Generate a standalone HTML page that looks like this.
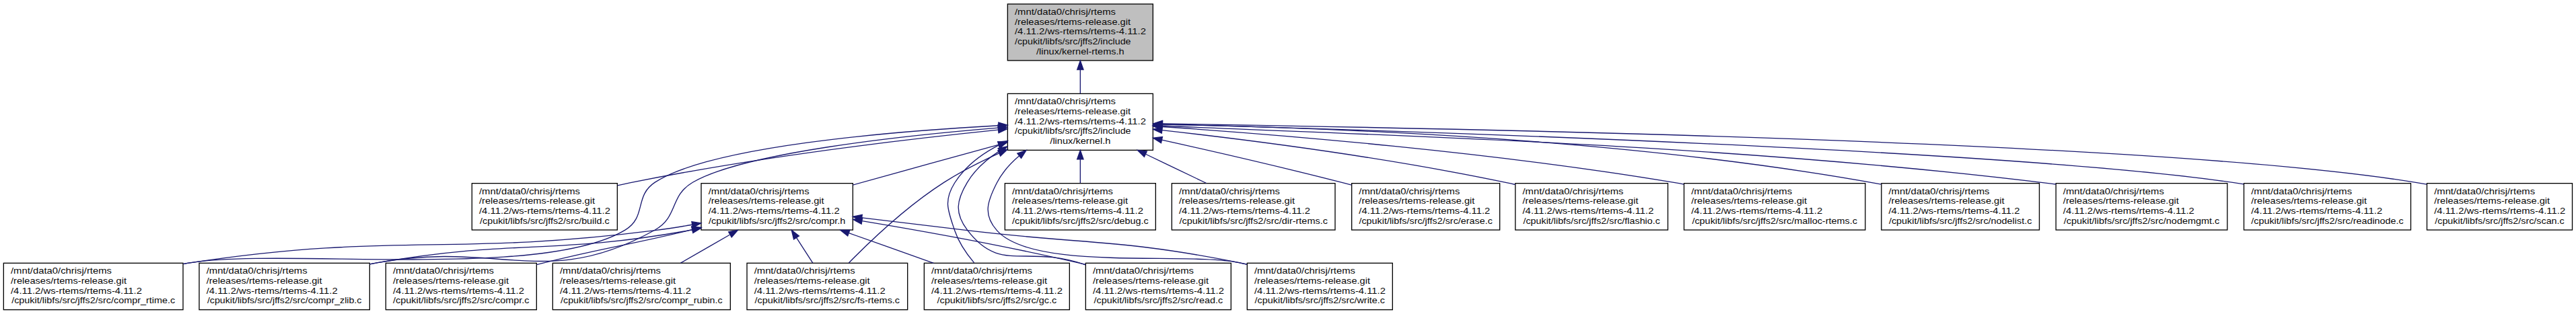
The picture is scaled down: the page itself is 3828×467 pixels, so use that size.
<!DOCTYPE html><html><head><meta charset="utf-8"><style>html,body{margin:0;padding:0;background:#fff;overflow:hidden;width:3828px;height:467px;}svg{display:block;}text{font-family:"Liberation Sans",sans-serif;font-size:13.3px;fill:#090909;}</style></head><body>
<svg width="3828" height="467" viewBox="0 0 3828 467">
<rect x="0" y="0" width="3828" height="467" fill="#fff"/>
<g><rect x="1497.33" y="6" width="216" height="84" fill="#bfbfbf" stroke="#000" stroke-width="1.33"/>
<text x="1508" y="22" textLength="150" lengthAdjust="spacingAndGlyphs">/mnt/data0/chrisj/rtems</text>
<text x="1508" y="36.67" textLength="172" lengthAdjust="spacingAndGlyphs">/releases/rtems-release.git</text>
<text x="1508" y="51.33" textLength="195" lengthAdjust="spacingAndGlyphs">/4.11.2/ws-rtems/rtems-4.11.2</text>
<text x="1508" y="66" textLength="172.5" lengthAdjust="spacingAndGlyphs">/cpukit/libfs/src/jffs2/include</text>
<text x="1605.33" y="80.67" text-anchor="middle" textLength="130.5" lengthAdjust="spacingAndGlyphs">/linux/kernel-rtems.h</text>
<rect x="1497.33" y="139.33" width="216" height="84" fill="#fff" stroke="#000" stroke-width="1.33"/>
<text x="1508" y="155.33" textLength="150" lengthAdjust="spacingAndGlyphs">/mnt/data0/chrisj/rtems</text>
<text x="1508" y="170" textLength="172" lengthAdjust="spacingAndGlyphs">/releases/rtems-release.git</text>
<text x="1508" y="184.67" textLength="195" lengthAdjust="spacingAndGlyphs">/4.11.2/ws-rtems/rtems-4.11.2</text>
<text x="1508" y="199.33" textLength="172.5" lengthAdjust="spacingAndGlyphs">/cpukit/libfs/src/jffs2/include</text>
<text x="1605.33" y="214" text-anchor="middle" textLength="90" lengthAdjust="spacingAndGlyphs">/linux/kernel.h</text>
<rect x="701.33" y="272.67" width="216" height="69.33" fill="#fff" stroke="#000" stroke-width="1.33"/>
<text x="712" y="288.67" textLength="150" lengthAdjust="spacingAndGlyphs">/mnt/data0/chrisj/rtems</text>
<text x="712" y="303.33" textLength="172" lengthAdjust="spacingAndGlyphs">/releases/rtems-release.git</text>
<text x="712" y="318" textLength="195" lengthAdjust="spacingAndGlyphs">/4.11.2/ws-rtems/rtems-4.11.2</text>
<text x="809.33" y="332.67" text-anchor="middle" textLength="192.5" lengthAdjust="spacingAndGlyphs">/cpukit/libfs/src/jffs2/src/build.c</text>
<rect x="1042" y="272.67" width="225.33" height="69.33" fill="#fff" stroke="#000" stroke-width="1.33"/>
<text x="1052.67" y="288.67" textLength="150" lengthAdjust="spacingAndGlyphs">/mnt/data0/chrisj/rtems</text>
<text x="1052.67" y="303.33" textLength="172" lengthAdjust="spacingAndGlyphs">/releases/rtems-release.git</text>
<text x="1052.67" y="318" textLength="195" lengthAdjust="spacingAndGlyphs">/4.11.2/ws-rtems/rtems-4.11.2</text>
<text x="1154.67" y="332.67" text-anchor="middle" textLength="203.5" lengthAdjust="spacingAndGlyphs">/cpukit/libfs/src/jffs2/src/compr.h</text>
<rect x="5.33" y="391.33" width="266.67" height="69.33" fill="#fff" stroke="#000" stroke-width="1.33"/>
<text x="16" y="407.33" textLength="150" lengthAdjust="spacingAndGlyphs">/mnt/data0/chrisj/rtems</text>
<text x="16" y="422" textLength="172" lengthAdjust="spacingAndGlyphs">/releases/rtems-release.git</text>
<text x="16" y="436.67" textLength="195" lengthAdjust="spacingAndGlyphs">/4.11.2/ws-rtems/rtems-4.11.2</text>
<text x="138.67" y="451.33" text-anchor="middle" textLength="243" lengthAdjust="spacingAndGlyphs">/cpukit/libfs/src/jffs2/src/compr_rtime.c</text>
<rect x="296" y="391.33" width="253.33" height="69.33" fill="#fff" stroke="#000" stroke-width="1.33"/>
<text x="306.67" y="407.33" textLength="150" lengthAdjust="spacingAndGlyphs">/mnt/data0/chrisj/rtems</text>
<text x="306.67" y="422" textLength="172" lengthAdjust="spacingAndGlyphs">/releases/rtems-release.git</text>
<text x="306.67" y="436.67" textLength="195" lengthAdjust="spacingAndGlyphs">/4.11.2/ws-rtems/rtems-4.11.2</text>
<text x="422.67" y="451.33" text-anchor="middle" textLength="229.5" lengthAdjust="spacingAndGlyphs">/cpukit/libfs/src/jffs2/src/compr_zlib.c</text>
<rect x="1110" y="391.33" width="238.67" height="69.33" fill="#fff" stroke="#000" stroke-width="1.33"/>
<text x="1120.67" y="407.33" textLength="150" lengthAdjust="spacingAndGlyphs">/mnt/data0/chrisj/rtems</text>
<text x="1120.67" y="422" textLength="172" lengthAdjust="spacingAndGlyphs">/releases/rtems-release.git</text>
<text x="1120.67" y="436.67" textLength="195" lengthAdjust="spacingAndGlyphs">/4.11.2/ws-rtems/rtems-4.11.2</text>
<text x="1229.33" y="451.33" text-anchor="middle" textLength="215.5" lengthAdjust="spacingAndGlyphs">/cpukit/libfs/src/jffs2/src/fs-rtems.c</text>
<rect x="1373.33" y="391.33" width="216" height="69.33" fill="#fff" stroke="#000" stroke-width="1.33"/>
<text x="1384" y="407.33" textLength="150" lengthAdjust="spacingAndGlyphs">/mnt/data0/chrisj/rtems</text>
<text x="1384" y="422" textLength="172" lengthAdjust="spacingAndGlyphs">/releases/rtems-release.git</text>
<text x="1384" y="436.67" textLength="195" lengthAdjust="spacingAndGlyphs">/4.11.2/ws-rtems/rtems-4.11.2</text>
<text x="1481.33" y="451.33" text-anchor="middle" textLength="177.5" lengthAdjust="spacingAndGlyphs">/cpukit/libfs/src/jffs2/src/gc.c</text>
<rect x="1613.33" y="391.33" width="216" height="69.33" fill="#fff" stroke="#000" stroke-width="1.33"/>
<text x="1624" y="407.33" textLength="150" lengthAdjust="spacingAndGlyphs">/mnt/data0/chrisj/rtems</text>
<text x="1624" y="422" textLength="172" lengthAdjust="spacingAndGlyphs">/releases/rtems-release.git</text>
<text x="1624" y="436.67" textLength="195" lengthAdjust="spacingAndGlyphs">/4.11.2/ws-rtems/rtems-4.11.2</text>
<text x="1721.33" y="451.33" text-anchor="middle" textLength="191.5" lengthAdjust="spacingAndGlyphs">/cpukit/libfs/src/jffs2/src/read.c</text>
<rect x="1853.33" y="391.33" width="216" height="69.33" fill="#fff" stroke="#000" stroke-width="1.33"/>
<text x="1864" y="407.33" textLength="150" lengthAdjust="spacingAndGlyphs">/mnt/data0/chrisj/rtems</text>
<text x="1864" y="422" textLength="172" lengthAdjust="spacingAndGlyphs">/releases/rtems-release.git</text>
<text x="1864" y="436.67" textLength="195" lengthAdjust="spacingAndGlyphs">/4.11.2/ws-rtems/rtems-4.11.2</text>
<text x="1961.33" y="451.33" text-anchor="middle" textLength="193.5" lengthAdjust="spacingAndGlyphs">/cpukit/libfs/src/jffs2/src/write.c</text>
<rect x="1493.33" y="272.67" width="224" height="69.33" fill="#fff" stroke="#000" stroke-width="1.33"/>
<text x="1504" y="288.67" textLength="150" lengthAdjust="spacingAndGlyphs">/mnt/data0/chrisj/rtems</text>
<text x="1504" y="303.33" textLength="172" lengthAdjust="spacingAndGlyphs">/releases/rtems-release.git</text>
<text x="1504" y="318" textLength="195" lengthAdjust="spacingAndGlyphs">/4.11.2/ws-rtems/rtems-4.11.2</text>
<text x="1605.33" y="332.67" text-anchor="middle" textLength="202.5" lengthAdjust="spacingAndGlyphs">/cpukit/libfs/src/jffs2/src/debug.c</text>
<rect x="1741.33" y="272.67" width="242.67" height="69.33" fill="#fff" stroke="#000" stroke-width="1.33"/>
<text x="1752" y="288.67" textLength="150" lengthAdjust="spacingAndGlyphs">/mnt/data0/chrisj/rtems</text>
<text x="1752" y="303.33" textLength="172" lengthAdjust="spacingAndGlyphs">/releases/rtems-release.git</text>
<text x="1752" y="318" textLength="195" lengthAdjust="spacingAndGlyphs">/4.11.2/ws-rtems/rtems-4.11.2</text>
<text x="1862.67" y="332.67" text-anchor="middle" textLength="220.5" lengthAdjust="spacingAndGlyphs">/cpukit/libfs/src/jffs2/src/dir-rtems.c</text>
<rect x="2008.67" y="272.67" width="220" height="69.33" fill="#fff" stroke="#000" stroke-width="1.33"/>
<text x="2019.33" y="288.67" textLength="150" lengthAdjust="spacingAndGlyphs">/mnt/data0/chrisj/rtems</text>
<text x="2019.33" y="303.33" textLength="172" lengthAdjust="spacingAndGlyphs">/releases/rtems-release.git</text>
<text x="2019.33" y="318" textLength="195" lengthAdjust="spacingAndGlyphs">/4.11.2/ws-rtems/rtems-4.11.2</text>
<text x="2118.67" y="332.67" text-anchor="middle" textLength="198.5" lengthAdjust="spacingAndGlyphs">/cpukit/libfs/src/jffs2/src/erase.c</text>
<rect x="2251.83" y="272.67" width="226.67" height="69.33" fill="#fff" stroke="#000" stroke-width="1.33"/>
<text x="2262.5" y="288.67" textLength="150" lengthAdjust="spacingAndGlyphs">/mnt/data0/chrisj/rtems</text>
<text x="2262.5" y="303.33" textLength="172" lengthAdjust="spacingAndGlyphs">/releases/rtems-release.git</text>
<text x="2262.5" y="318" textLength="195" lengthAdjust="spacingAndGlyphs">/4.11.2/ws-rtems/rtems-4.11.2</text>
<text x="2365.17" y="332.67" text-anchor="middle" textLength="203.5" lengthAdjust="spacingAndGlyphs">/cpukit/libfs/src/jffs2/src/flashio.c</text>
<rect x="2502.5" y="272.67" width="269.33" height="69.33" fill="#fff" stroke="#000" stroke-width="1.33"/>
<text x="2513.17" y="288.67" textLength="150" lengthAdjust="spacingAndGlyphs">/mnt/data0/chrisj/rtems</text>
<text x="2513.17" y="303.33" textLength="172" lengthAdjust="spacingAndGlyphs">/releases/rtems-release.git</text>
<text x="2513.17" y="318" textLength="195" lengthAdjust="spacingAndGlyphs">/4.11.2/ws-rtems/rtems-4.11.2</text>
<text x="2637.17" y="332.67" text-anchor="middle" textLength="245.5" lengthAdjust="spacingAndGlyphs">/cpukit/libfs/src/jffs2/src/malloc-rtems.c</text>
<rect x="2795.83" y="272.67" width="234.67" height="69.33" fill="#fff" stroke="#000" stroke-width="1.33"/>
<text x="2806.5" y="288.67" textLength="150" lengthAdjust="spacingAndGlyphs">/mnt/data0/chrisj/rtems</text>
<text x="2806.5" y="303.33" textLength="172" lengthAdjust="spacingAndGlyphs">/releases/rtems-release.git</text>
<text x="2806.5" y="318" textLength="195" lengthAdjust="spacingAndGlyphs">/4.11.2/ws-rtems/rtems-4.11.2</text>
<text x="2913.17" y="332.67" text-anchor="middle" textLength="212.5" lengthAdjust="spacingAndGlyphs">/cpukit/libfs/src/jffs2/src/nodelist.c</text>
<rect x="3055.17" y="272.67" width="254.67" height="69.33" fill="#fff" stroke="#000" stroke-width="1.33"/>
<text x="3065.83" y="288.67" textLength="150" lengthAdjust="spacingAndGlyphs">/mnt/data0/chrisj/rtems</text>
<text x="3065.83" y="303.33" textLength="172" lengthAdjust="spacingAndGlyphs">/releases/rtems-release.git</text>
<text x="3065.83" y="318" textLength="195" lengthAdjust="spacingAndGlyphs">/4.11.2/ws-rtems/rtems-4.11.2</text>
<text x="3182.5" y="332.67" text-anchor="middle" textLength="231.5" lengthAdjust="spacingAndGlyphs">/cpukit/libfs/src/jffs2/src/nodemgmt.c</text>
<rect x="3334.5" y="272.67" width="248" height="69.33" fill="#fff" stroke="#000" stroke-width="1.33"/>
<text x="3345.17" y="288.67" textLength="150" lengthAdjust="spacingAndGlyphs">/mnt/data0/chrisj/rtems</text>
<text x="3345.17" y="303.33" textLength="172" lengthAdjust="spacingAndGlyphs">/releases/rtems-release.git</text>
<text x="3345.17" y="318" textLength="195" lengthAdjust="spacingAndGlyphs">/4.11.2/ws-rtems/rtems-4.11.2</text>
<text x="3458.5" y="332.67" text-anchor="middle" textLength="226.5" lengthAdjust="spacingAndGlyphs">/cpukit/libfs/src/jffs2/src/readinode.c</text>
<rect x="3606.5" y="272.67" width="216" height="69.33" fill="#fff" stroke="#000" stroke-width="1.33"/>
<text x="3617.17" y="288.67" textLength="150" lengthAdjust="spacingAndGlyphs">/mnt/data0/chrisj/rtems</text>
<text x="3617.17" y="303.33" textLength="172" lengthAdjust="spacingAndGlyphs">/releases/rtems-release.git</text>
<text x="3617.17" y="318" textLength="195" lengthAdjust="spacingAndGlyphs">/4.11.2/ws-rtems/rtems-4.11.2</text>
<text x="3714.5" y="332.67" text-anchor="middle" textLength="192.5" lengthAdjust="spacingAndGlyphs">/cpukit/libfs/src/jffs2/src/scan.c</text>
<rect x="573.33" y="391.33" width="224" height="69.33" fill="#fff" stroke="#000" stroke-width="1.33"/>
<text x="584" y="407.33" textLength="150" lengthAdjust="spacingAndGlyphs">/mnt/data0/chrisj/rtems</text>
<text x="584" y="422" textLength="172" lengthAdjust="spacingAndGlyphs">/releases/rtems-release.git</text>
<text x="584" y="436.67" textLength="195" lengthAdjust="spacingAndGlyphs">/4.11.2/ws-rtems/rtems-4.11.2</text>
<text x="685.33" y="451.33" text-anchor="middle" textLength="202.5" lengthAdjust="spacingAndGlyphs">/cpukit/libfs/src/jffs2/src/compr.c</text>
<rect x="821.33" y="391.33" width="264" height="69.33" fill="#fff" stroke="#000" stroke-width="1.33"/>
<text x="832" y="407.33" textLength="150" lengthAdjust="spacingAndGlyphs">/mnt/data0/chrisj/rtems</text>
<text x="832" y="422" textLength="172" lengthAdjust="spacingAndGlyphs">/releases/rtems-release.git</text>
<text x="832" y="436.67" textLength="195" lengthAdjust="spacingAndGlyphs">/4.11.2/ws-rtems/rtems-4.11.2</text>
<text x="953.33" y="451.33" text-anchor="middle" textLength="240.5" lengthAdjust="spacingAndGlyphs">/cpukit/libfs/src/jffs2/src/compr_rubin.c</text></g>
<g fill="none" stroke="#191970" stroke-width="1.33"><path d="M1605.33,103.87C1605.33,115.68 1605.33,127.99 1605.33,139.16"/>
<polygon points="1600.67,103.65 1605.33,90.32 1610,103.65 1600.67,103.65" fill="#191970"/>
<path d="M1483.24,193.16C1348.47,207.02 1125.49,233.49 936,271.94 929.97,273.16 923.8,274.51 917.6,275.95"/>
<polygon points="1483.07,188.49 1496.81,191.79 1484.01,197.77 1483.07,188.49" fill="#191970"/>
<path d="M1483.57,215.29C1416.25,233.78 1333.16,256.79 1267.35,275.16"/>
<polygon points="1482.72,210.69 1496.81,211.66 1485.19,219.69 1482.72,210.69" fill="#191970"/>
<path d="M1483.67,186.75C1324.23,195.44 1055.21,217.81 973.33,271.18 942.33,291.39 960.99,322.71 929.33,341.88 806.29,416.42 426.15,368.66 284,390.65 280.16,391.24 276.27,391.89 272.35,392.57"/>
<polygon points="1483.76,182.07 1497.32,186.01 1484.25,191.39 1483.76,182.07" fill="#191970"/>
<path d="M1483.36,190.13C1337.73,202.06 1104.39,227.47 1029.33,271.24 994.71,291.43 1008.33,322.42 973.33,341.96 812.29,431.9 742.76,357.62 561.33,390.64 557.43,391.36 553.47,392.11 549.48,392.91"/>
<polygon points="1483.08,185.48 1496.75,189.07 1483.83,194.79 1483.08,185.48" fill="#191970"/>
<path d="M1484.72,227.86C1456.92,240.4 1428.07,255.12 1402.67,271.39 1348.6,306.11 1294.41,357.35 1261.37,390.93"/>
<polygon points="1482.91,223.57 1496.99,222.43 1486.68,232.1 1482.91,223.57" fill="#191970"/>
<path d="M1485.15,215.37C1458.88,228.8 1434.28,247.23 1418.67,272 1401.92,298.57 1408.6,312.92 1418.67,342.67 1424.64,360.32 1436.11,377.16 1447.61,390.93"/>
<polygon points="1483.25,211.1 1497.32,209.69 1487.2,219.55 1483.25,211.1" fill="#191970"/>
<path d="M1484.88,224.86C1465.92,236.94 1448.81,252.19 1437.33,271.3 1421.16,298.22 1418.45,316.86 1437.33,341.97 1486.76,407.62 1523.04,362.72 1613.13,393.81"/>
<polygon points="1483.05,220.53 1496.91,217.74 1487.81,228.55 1483.05,220.53" fill="#191970"/>
<path d="M1514.6,231.83C1501.19,243.2 1489.24,256.57 1481.33,272 1467.01,299.96 1460.64,319.04 1481.33,342.67 1534.49,403.39 1762.31,374.29 1841.33,390.67 1845.15,391.45 1849.03,392.31 1852.92,393.2"/>
<polygon points="1511.73,228.15 1525.09,223.53 1517.52,235.47 1511.73,228.15" fill="#191970"/>
<path d="M1605.33,236.77C1605.33,248.85 1605.33,261.33 1605.33,272.31"/>
<polygon points="1600.67,236.72 1605.33,223.39 1610,236.72 1600.67,236.72" fill="#191970"/>
<path d="M1702.56,229.27C1732.57,243.65 1765.01,259.2 1792.8,272.51"/>
<polygon points="1700.32,233.36 1690.31,223.39 1704.35,224.95 1700.32,233.36" fill="#191970"/>
<path d="M1726.6,208.11C1803.91,225.26 1906.09,248.79 1996,271.93 2000.07,272.98 2004.21,274.07 2008.4,275.17"/>
<polygon points="1725.45,212.63 1713.43,205.2 1727.45,203.51 1725.45,212.63" fill="#191970"/>
<path d="M1726.85,193.65C1855.05,208.02 2062.88,234.73 2239.87,271.93 2243.72,272.74 2247.63,273.62 2251.58,274.52"/>
<polygon points="1726.25,198.27 1713.51,192.18 1727.27,189.01 1726.25,198.27" fill="#191970"/>
<path d="M1727,188.5C1898.12,200.03 2219.65,226.16 2490.52,271.96 2494.38,272.61 2498.29,273.3 2502.23,274.04"/>
<polygon points="1726.4,193.14 1713.4,187.61 1727.01,183.82 1726.4,193.14" fill="#191970"/>
<path d="M1727.32,185C1942.44,189.36 2402.69,202.4 2795.65,274.13"/>
<polygon points="1727.41,180.33 1713.99,184.73 1727.23,189.67" fill="#191970"/>
<path d="M1726.79,187C1975.44,199.26 2559.89,212.1 3054.89,274.03"/>
<polygon points="1727.02,182.34 1713.47,186.34 1726.56,191.66" fill="#191970"/>
<path d="M1727.33,184.8C2066.41,193.67 3015.43,223.66 3334.18,273.91"/>
<polygon points="1727.46,180.13 1714,184.45 1727.21,189.47" fill="#191970"/>
<path d="M1727.47,184C2102.39,189.89 3233.36,208.65 3606.17,274.09"/>
<polygon points="1727.54,179.33 1714.14,183.79 1727.39,188.67" fill="#191970"/>
<path d="M1028.47,334.27C1010.03,337.44 991.23,340.37 973.33,342.67 668.71,381.69 587.68,344.88 284,390.67 280.16,391.24 276.27,391.88 272.35,392.55"/>
<polygon points="1027.87,329.64 1041.81,331.92 1029.49,338.83 1027.87,329.64" fill="#191970"/>
<path d="M1028.44,341.84C1026.95,342.13 1025.47,342.4 1024,342.67 820.57,379.47 765.01,355.31 561.33,390.67 557.43,391.35 553.47,392.07 549.47,392.84"/>
<polygon points="1027.95,337.19 1041.93,339.13 1029.79,346.33 1027.95,337.19" fill="#191970"/>
<path d="M1028.39,341.6C1026.92,341.96 1025.45,342.32 1024,342.67 928.97,365.64 904.2,367.07 809.33,390.67 805.44,391.64 801.47,392.64 797.47,393.67"/>
<polygon points="1027.69,336.96 1041.76,338.31 1029.93,346.03 1027.69,336.96" fill="#191970"/>
<path d="M1084.25,349.24C1060.45,362.95 1034.17,378.09 1011.44,391.19"/>
<polygon points="1082.55,344.83 1096.43,342.21 1087.21,352.92 1082.55,344.83" fill="#191970"/>
<path d="M1183.48,353.43C1191.56,365.99 1200.2,379.41 1207.79,391.19"/>
<polygon points="1179.56,355.96 1176.27,342.21 1187.4,350.91 1179.56,355.96" fill="#191970"/>
<path d="M1261.68,346.67C1302.25,361.08 1348.11,377.36 1387.39,391.31"/>
<polygon points="1259.72,350.92 1248.72,342.07 1262.84,342.13 1259.72,350.92" fill="#191970"/>
<path d="M1281.27,328.63C1371.05,343.59 1494.15,365.71 1601.33,390.67 1605.13,391.55 1608.99,392.48 1612.87,393.44"/>
<polygon points="1280.11,333.16 1267.71,326.39 1281.63,323.96 1280.11,333.16" fill="#191970"/>
<path d="M1281.01,323.91C1329.85,329.79 1386.19,336.55 1437.33,342.67 1616.88,364.13 1664.01,355.24 1841.33,390.67 1845.16,391.43 1849.03,392.25 1852.95,393.13"/>
<polygon points="1280.13,328.49 1267.45,322.27 1281.25,319.23 1280.13,328.49" fill="#191970"/></g>
</svg></body></html>
